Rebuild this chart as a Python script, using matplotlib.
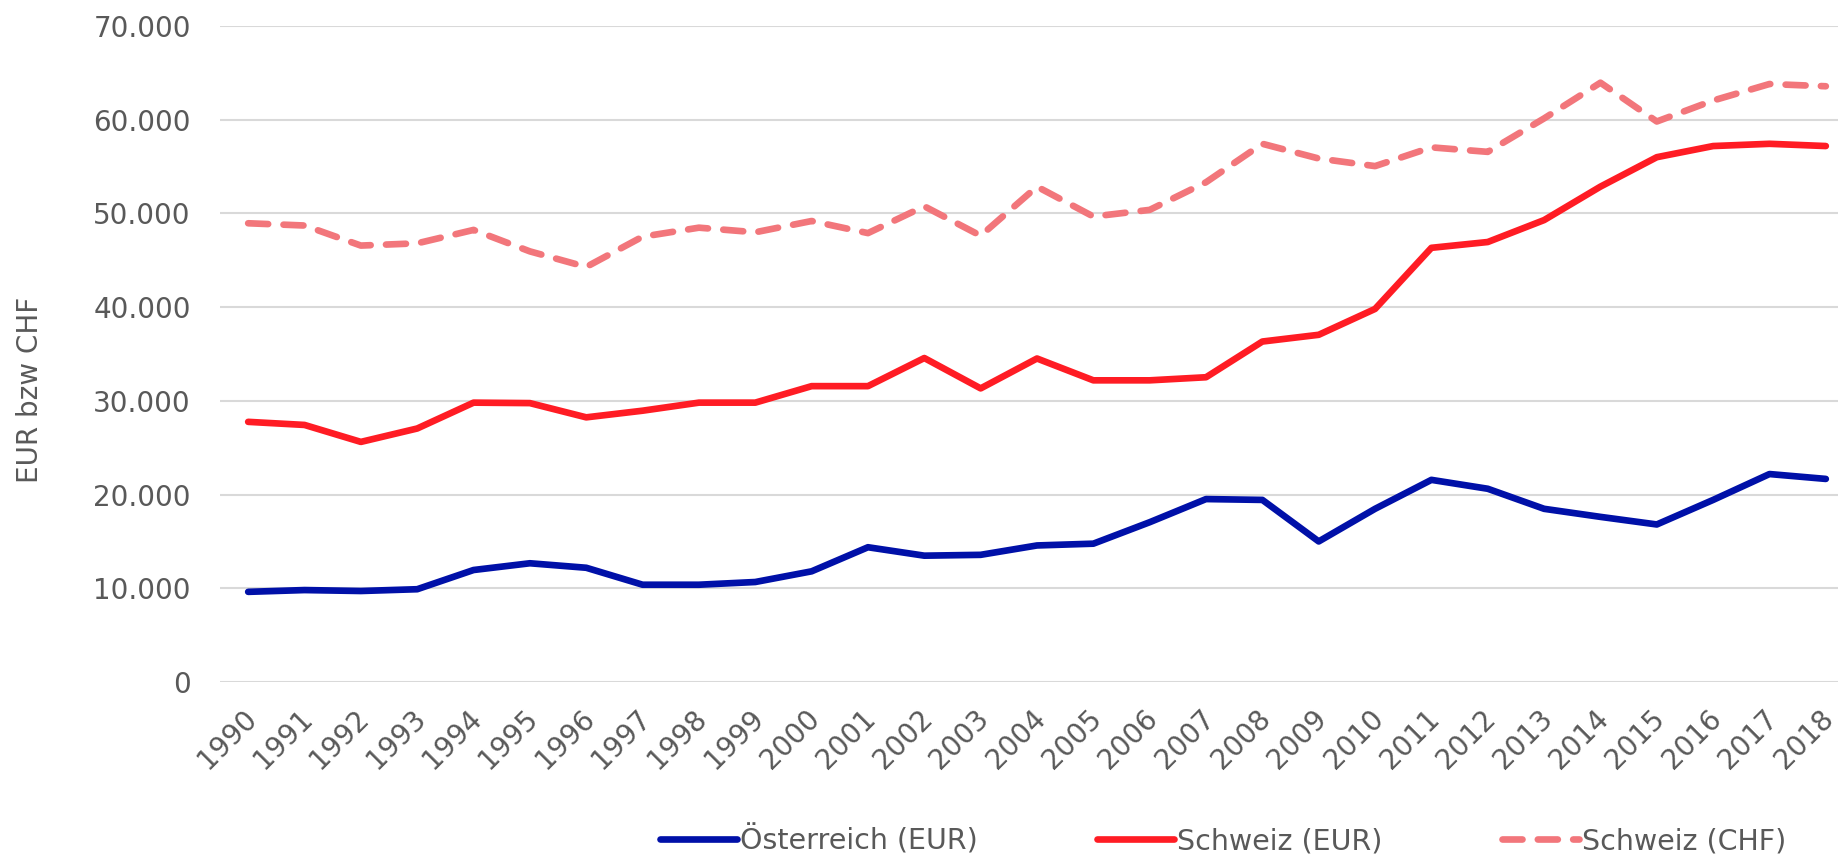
import matplotlib
matplotlib.use("Agg")
import matplotlib.pyplot as plt
from matplotlib.ticker import FuncFormatter
from matplotlib.transforms import ScaledTranslation

# Daten
jahre = [str(j) for j in range(1990, 2019)]
oesterreich_eur = [9620, 9810, 9710, 9900, 11950, 12670, 12190, 10380, 10380, 10670,
                   11810, 14380, 13480, 13570, 14570, 14760, 17050, 19520, 19430, 15000,
                   18480, 21570, 20620, 18480, 17620, 16810, 19430, 22190, 21670]
schweiz_eur = [27760, 27430, 25620, 27050, 29810, 29760, 28240, 28950, 29810, 29810,
               31570, 31570, 34570, 31330, 34520, 32190, 32190, 32520, 36330, 37050,
               39810, 46330, 46950, 49290, 52860, 56000, 57190, 57430, 57190]
schweiz_chf = [48950, 48710, 46570, 46810, 48240, 45950, 44290, 47520, 48480, 47990,
               49190, 47900, 50760, 47620, 52860, 49670, 50380, 53330, 57430, 55860,
               55050, 57050, 56570, 60140, 63950, 59810, 62050, 63810, 63570]

grau = "#595959"
plt.rcParams["font.family"] = ["DejaVu Sans"]

fig = plt.figure(figsize=(18.38, 8.59), dpi=100)
ax = fig.add_axes([220 / 1838, 177 / 859, 1634 / 1838, 656 / 859])

x = range(len(jahre))
ax.plot(x, oesterreich_eur, color="#0010A8", lw=4.8, solid_capstyle="round",
        solid_joinstyle="round", label="Österreich (EUR)")
ax.plot(x, schweiz_eur, color="#FF1C24", lw=4.8, solid_capstyle="round",
        solid_joinstyle="round", label="Schweiz (EUR)")
ax.plot(x, schweiz_chf, color="#F2767B", lw=4.8, dash_capstyle="round",
        dash_joinstyle="round", dashes=(3.0, 2.3), label="Schweiz (CHF)")

ax.set_xlim(-0.5, len(jahre) - 0.5)
ax.set_ylim(0, 70000)
ax.set_yticks(range(0, 70001, 10000))
ax.yaxis.set_major_formatter(FuncFormatter(lambda v, p: f"{int(v):,}".replace(",", ".")))
ax.set_xticks(list(x))
ax.set_xticklabels(jahre, rotation=45, ha="right", rotation_mode="anchor")

ax.grid(axis="y", color="#D9D9D9", lw=1.5)
ax.set_axisbelow(True)
for s in ax.spines.values():
    s.set_visible(False)
ax.tick_params(axis="both", length=0, labelsize=20, colors=grau)
ax.tick_params(axis="y", pad=21)
ax.tick_params(axis="x", pad=16)

# Jahreszahlen etwas nach links schieben
verschiebung = ScaledTranslation(-6 / 100, 0, fig.dpi_scale_trans)
for lab in ax.get_xticklabels():
    lab.set_transform(lab.get_transform() + verschiebung)

fig.text(30 / 1838, 1 - 390 / 859, "EUR bzw CHF", rotation=90, ha="center",
         va="center", fontsize=20, color=grau)

leg = fig.legend(loc="center", bbox_to_anchor=(0.6655, 0.022), ncol=3, frameon=False,
                 fontsize=20.5, handlelength=2.7, handletextpad=0.1, columnspacing=4.2)
for t in leg.get_texts():
    t.set_color(grau)

fig.savefig("out.png", dpi=100)
